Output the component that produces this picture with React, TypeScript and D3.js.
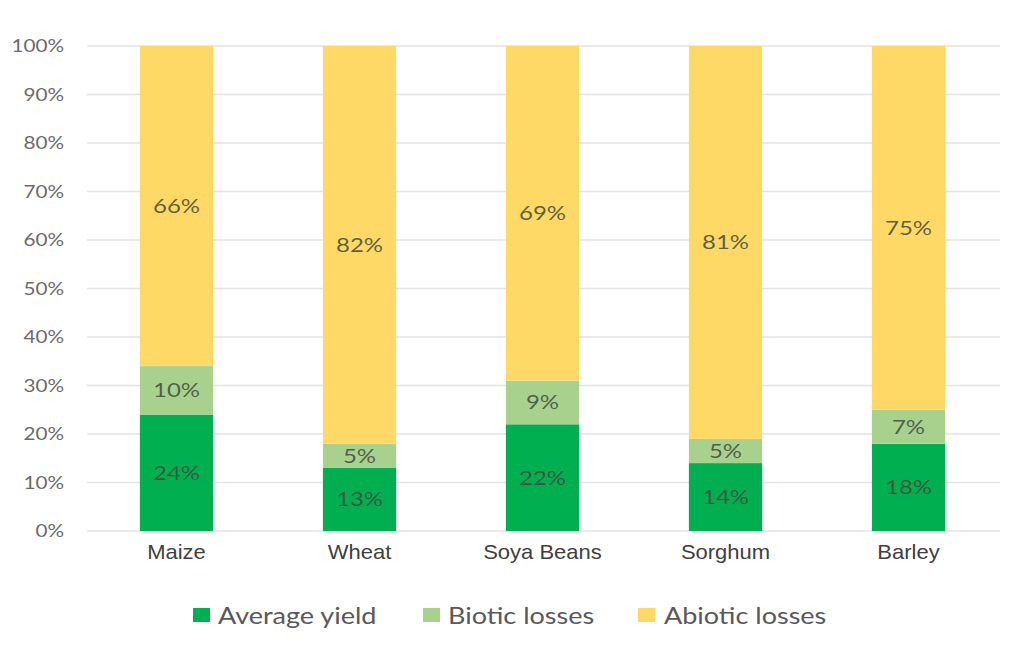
import React from "react";
import * as d3 from "d3";

const categories = ["Maize", "Wheat", "Soya Beans", "Sorghum", "Barley"];
const averageYield = [24, 13, 22, 14, 18];
const bioticLosses = [10, 5, 9, 5, 7];
const abioticLosses = [66, 82, 69, 81, 75];
const seriesNames = ["Average yield", "Biotic losses", "Abiotic losses"];
const seriesColors = ["#00b050", "#a9d18e", "#ffd966"];
const yTicks = [0, 10, 20, 30, 40, 50, 60, 70, 80, 90, 100];

const W = 1024;
const H = 645;
const plotLeft = 85;
const plotRight = 1000;
const plotTop = 46;
const plotBottom = 531;

export default function App() {
  const x = d3
    .scaleBand<string>()
    .domain(categories)
    .range([plotLeft, plotRight])
    .paddingInner(0.6)
    .paddingOuter(0.3);
  const y = d3.scaleLinear().domain([0, 100]).range([plotBottom, plotTop]);

  const rows = categories.map((c, i) => ({
    cat: c,
    s0: averageYield[i],
    s1: bioticLosses[i],
    s2: abioticLosses[i],
  }));
  const stack = d3.stack<any>().keys(["s0", "s1", "s2"]);
  const layers = stack(rows);

  const legendX = [193, 423, 638];
  const legendTextX = [218, 448, 664];

  return (
    <svg
      width={W}
      height={H}
      style={{ position: "absolute", left: 0, top: 0, background: "#fff" }}
    >
      <rect x={0} y={0} width={W} height={H} fill="#fff" />
      {yTicks.map((t) => (
        <g key={t}>
          <line
            x1={plotLeft + 2}
            x2={plotRight}
            y1={y(t)}
            y2={y(t)}
            stroke="#e3e3e3"
            strokeWidth={1.3}
          />
          <text
            transform={`translate(64,${y(t)}) scale(1.15,1)`}
            dy="0.35em"
            textAnchor="end"
            fontFamily="Lato, 'Open Sans', sans-serif"
            fontSize={18}
            fill="#6b6b6b"
          >
            {t}%
          </text>
        </g>
      ))}
      {layers.map((layer, li) =>
        layer.map((d, i) => {
          const cat = categories[i];
          const x0 = x(cat)!;
          const y0 = y(d[0]);
          const y1 = y(d[1]);
          const val = d[1] - d[0];
          return (
            <g key={li + "-" + i}>
              <rect
                x={x0}
                y={y1}
                width={x.bandwidth()}
                height={y0 - y1}
                fill={seriesColors[li]}
              />
              <text
                transform={`translate(${x0 + x.bandwidth() / 2},${(y0 + y1) / 2}) scale(1.2,1)`}
                dy="0.35em"
                textAnchor="middle"
                fontFamily="Lato, 'Open Sans', sans-serif"
                fontSize={20}
                fill="#3f4a3a"
                fillOpacity={0.85}
              >
                {val}%
              </text>
            </g>
          );
        })
      )}
      {categories.map((c) => (
        <text
          key={c}
          transform={`translate(${x(c)! + x.bandwidth() / 2},552) scale(1.1,1)`}
          dy="0.35em"
          textAnchor="middle"
          fontFamily="'Liberation Sans', Arial, sans-serif"
          fontSize={20}
          fill="#404040"
        >
          {c}
        </text>
      ))}
      {seriesNames.map((n, i) => (
        <g key={n}>
          <rect
            x={legendX[i]}
            y={608}
            width={17}
            height={14}
            fill={seriesColors[i]}
          />
          <text
            transform={`translate(${legendTextX[i]},616) scale(1.2,1)`}
            dy="0.35em"
            fontFamily="Lato, 'Open Sans', sans-serif"
            fontSize={22.5}
            fill="#595959"
          >
            {n}
          </text>
        </g>
      ))}
    </svg>
  );
}
